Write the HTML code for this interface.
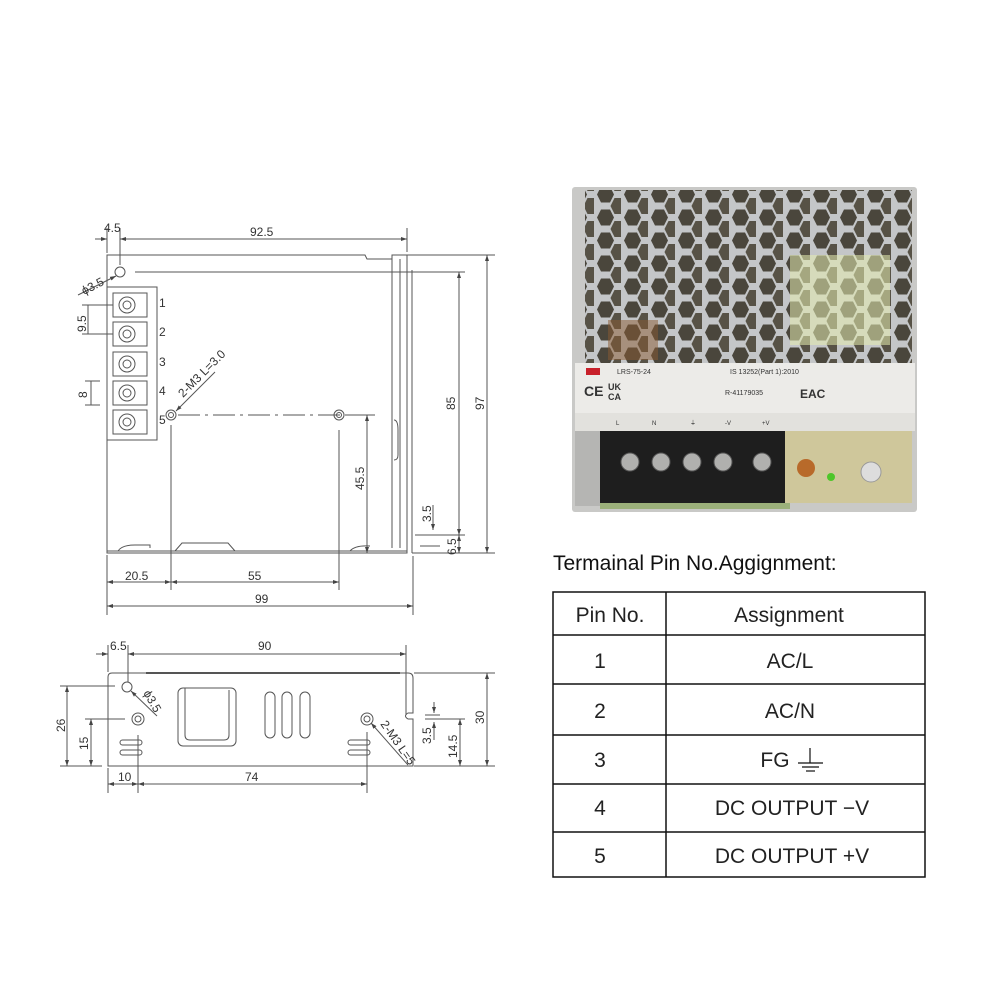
<!DOCTYPE html>
<html><head><meta charset="utf-8"><style>
html,body{margin:0;padding:0;background:#fff;}
svg{display:block;}
text{font-family:"Liberation Sans",sans-serif;}
</style></head><body>
<svg width="1000" height="1000" viewBox="0 0 1000 1000" xmlns="http://www.w3.org/2000/svg">
<defs>
<pattern id="hex" width="27" height="23" patternUnits="userSpaceOnUse">
<rect width="27" height="23" fill="#c4c6c8"/>
<polygon points="7,2 16,2 20,10 16,18 7,18 3,10" fill="#4a463c" transform="translate(0,0.5)"/>
<polygon points="7,2 16,2 20,10 16,18 7,18 3,10" fill="#575246" transform="translate(13.5,12)"/>
<polygon points="7,2 16,2 20,10 16,18 7,18 3,10" fill="#575246" transform="translate(13.5,-11)"/>
</pattern>
<marker id="a" markerWidth="6" markerHeight="6" refX="6" refY="3" orient="auto-start-reverse"><path d="M0,1 L6,3 L0,5z" fill="#444"/></marker>
</defs>

<!-- TOP DRAWING -->
<g stroke="#555" stroke-width="1" fill="none">
<path d="M107,255 H365 L367,259 H392 V255 H407 V553 H107 Z"/>
<path d="M392,259 V548 M400,259 V548 M412,270 V553"/>
<path d="M394,420 Q398,420 398,430 V455 Q398,460 394,460"/>
<circle cx="120" cy="272" r="5"/>
<rect x="107" y="287" width="50" height="153"/>
<g>
<rect x="113" y="293" width="34" height="24"/><circle cx="127" cy="305" r="8"/><circle cx="127" cy="305" r="4"/>
<rect x="113" y="322" width="34" height="24"/><circle cx="127" cy="334" r="8"/><circle cx="127" cy="334" r="4"/>
<rect x="113" y="352" width="34" height="24"/><circle cx="127" cy="364" r="8"/><circle cx="127" cy="364" r="4"/>
<rect x="113" y="381" width="34" height="24"/><circle cx="127" cy="393" r="8"/><circle cx="127" cy="393" r="4"/>
<rect x="113" y="410" width="34" height="24"/><circle cx="127" cy="422" r="8"/><circle cx="127" cy="422" r="4"/>
</g>
<circle cx="171" cy="415" r="5"/><circle cx="171" cy="415" r="2.5"/>
<circle cx="339" cy="415" r="5"/><circle cx="339" cy="415" r="2.5"/>
<path d="M178,415 H372" stroke-dasharray="22,5,3,5"/>
<path d="M118,551 Q122,545 135,545 H150 V548 M175,551 L182,543 H228 L235,551 M350,551 Q355,545 370,546"/>
<line x1="107" y1="551" x2="407" y2="551"/>
<line x1="107" y1="228" x2="107" y2="253"/><line x1="120" y1="228" x2="120" y2="265"/><line x1="407" y1="228" x2="407" y2="252"/>
<line x1="95" y1="239" x2="107" y2="239" marker-end="url(#a)"/><line x1="120" y1="239" x2="407" y2="239" marker-start="url(#a)" marker-end="url(#a)"/>
<line x1="135" y1="272" x2="465" y2="272"/><line x1="407" y1="255" x2="495" y2="255"/><line x1="412" y1="553" x2="495" y2="553"/>
<line x1="459" y1="272" x2="459" y2="535" marker-start="url(#a)" marker-end="url(#a)"/>
<line x1="487" y1="255" x2="487" y2="553" marker-start="url(#a)" marker-end="url(#a)"/>
<line x1="345" y1="415" x2="375" y2="415"/>
<line x1="367" y1="415" x2="367" y2="553" marker-start="url(#a)" marker-end="url(#a)"/>
<line x1="415" y1="535" x2="465" y2="535"/><line x1="420" y1="546" x2="440" y2="546"/>
<line x1="433" y1="505" x2="433" y2="530" marker-end="url(#a)"/>
<line x1="459" y1="535" x2="459" y2="553" marker-start="url(#a)" marker-end="url(#a)"/>
<line x1="107" y1="555" x2="107" y2="615"/><line x1="171" y1="425" x2="171" y2="590"/><line x1="339" y1="430" x2="339" y2="590"/><line x1="413" y1="556" x2="413" y2="615"/>
<line x1="107" y1="582" x2="171" y2="582" marker-start="url(#a)" marker-end="url(#a)"/>
<line x1="171" y1="582" x2="339" y2="582" marker-start="url(#a)" marker-end="url(#a)"/>
<line x1="107" y1="606" x2="413" y2="606" marker-start="url(#a)" marker-end="url(#a)"/>
<line x1="82" y1="305" x2="113" y2="305"/><line x1="82" y1="334" x2="113" y2="334"/>
<line x1="88" y1="305" x2="88" y2="334"/>
<line x1="85" y1="381" x2="100" y2="381"/><line x1="85" y1="405" x2="100" y2="405"/><line x1="91" y1="381" x2="91" y2="405"/>
<line x1="78" y1="295" x2="116" y2="276" marker-end="url(#a)"/>
<line x1="176" y1="411" x2="215" y2="372" marker-start="url(#a)"/>
</g>
<g fill="#333" font-size="12">
<text x="104" y="232">4.5</text><text x="250" y="236">92.5</text>
<text x="159" y="307">1</text><text x="159" y="336">2</text><text x="159" y="366">3</text><text x="159" y="395">4</text><text x="159" y="424">5</text>
<text x="125" y="580">20.5</text><text x="248" y="580">55</text><text x="255" y="603">99</text>
<text transform="translate(455,410) rotate(-90)">85</text>
<text transform="translate(484,410) rotate(-90)">97</text>
<text transform="translate(364,490) rotate(-90)">45.5</text>
<text transform="translate(431,522) rotate(-90)">3.5</text>
<text transform="translate(456,555) rotate(-90)">6.5</text>
<text transform="translate(86,332) rotate(-90)">9.5</text>
<text transform="translate(87,398) rotate(-90)">8</text>
<text transform="translate(84,295) rotate(-27)">ϕ3.5</text>
<text transform="translate(183,398) rotate(-45)">2-M3 L=3.0</text>
</g>

<!-- BOTTOM DRAWING -->
<g stroke="#555" stroke-width="1" fill="none">
<path d="M112,673 H408 Q413,673 413,678 V713 H408 Q403,716 408,719 H413 V766 H108 V677 Q108,673 112,673 Z"/>
<line x1="146" y1="673" x2="400" y2="673" stroke-width="2"/>
<circle cx="127" cy="687" r="5"/><circle cx="138" cy="719" r="6"/><circle cx="138" cy="719" r="3"/>
<circle cx="367" cy="719" r="6"/><circle cx="367" cy="719" r="3"/>
<rect x="178" y="688" width="58" height="58" rx="5"/><path d="M185,688 V735 Q185,740 190,740 H224 Q229,740 229,735 V690"/>
<rect x="265" y="692" width="10" height="46" rx="5"/><rect x="282" y="692" width="10" height="46" rx="5"/><rect x="300" y="692" width="10" height="46" rx="5"/>
<rect x="120" y="740" width="22" height="5" rx="2.5"/><rect x="120" y="750" width="22" height="5" rx="2.5"/>
<rect x="348" y="740" width="22" height="5" rx="2.5"/><rect x="348" y="750" width="22" height="5" rx="2.5"/>
<line x1="108" y1="645" x2="108" y2="672"/><line x1="128" y1="645" x2="128" y2="682"/><line x1="406" y1="645" x2="406" y2="715"/>
<line x1="128" y1="654" x2="406" y2="654" marker-start="url(#a)" marker-end="url(#a)"/>
<line x1="96" y1="654" x2="108" y2="654" marker-end="url(#a)"/>
<line x1="414" y1="673" x2="495" y2="673"/><line x1="414" y1="766" x2="495" y2="766"/>
<line x1="487" y1="673" x2="487" y2="766" marker-start="url(#a)" marker-end="url(#a)"/>
<line x1="425" y1="719" x2="465" y2="719"/><line x1="425" y1="715" x2="440" y2="715"/>
<line x1="460" y1="719" x2="460" y2="766" marker-start="url(#a)" marker-end="url(#a)"/>
<line x1="434" y1="702" x2="434" y2="713" marker-end="url(#a)"/><line x1="434" y1="740" x2="434" y2="722" marker-end="url(#a)"/>
<line x1="60" y1="686" x2="115" y2="686"/><line x1="60" y1="766" x2="102" y2="766"/><line x1="85" y1="719" x2="125" y2="719"/>
<line x1="67" y1="686" x2="67" y2="766" marker-start="url(#a)" marker-end="url(#a)"/>
<line x1="91" y1="719" x2="91" y2="766" marker-start="url(#a)" marker-end="url(#a)"/>
<line x1="108" y1="768" x2="108" y2="793"/><line x1="138" y1="735" x2="138" y2="793"/><line x1="367" y1="732" x2="367" y2="793"/>
<line x1="108" y1="784" x2="138" y2="784" marker-start="url(#a)" marker-end="url(#a)"/>
<line x1="138" y1="784" x2="367" y2="784" marker-start="url(#a)" marker-end="url(#a)"/>
<line x1="131" y1="691" x2="157" y2="716" marker-start="url(#a)"/>
<line x1="371" y1="723" x2="408" y2="765" marker-start="url(#a)"/>
</g>
<g fill="#333" font-size="12">
<text x="110" y="650">6.5</text><text x="258" y="650">90</text>
<text x="118" y="781">10</text><text x="245" y="781">74</text>
<text transform="translate(65,732) rotate(-90)">26</text>
<text transform="translate(88,750) rotate(-90)">15</text>
<text transform="translate(484,724) rotate(-90)">30</text>
<text transform="translate(457,758) rotate(-90)">14.5</text>
<text transform="translate(431,744) rotate(-90)">3.5</text>
<text transform="translate(143,693) rotate(60)">ϕ3.5</text>
<text transform="translate(380,724) rotate(55)">2-M3 L=5</text>
</g>

<!-- PHOTO -->
<g>
<rect x="572" y="187" width="345" height="325" rx="3" fill="#c9c9c7"/>
<rect x="585" y="190" width="327" height="178" fill="url(#hex)"/>
<rect x="790" y="255" width="100" height="90" fill="#e6ecb0" opacity="0.55"/>
<rect x="608" y="320" width="50" height="40" fill="#8a5a32" opacity="0.5"/>
<rect x="575" y="363" width="340" height="50" fill="#ecebe8"/>
<rect x="586" y="368" width="14" height="7" fill="#c8202a"/>
<g font-size="7" fill="#333">
<text x="617" y="374">LRS-75-24</text>
<text x="584" y="396" font-size="14" font-weight="bold">CE</text>
<text x="608" y="390" font-size="9" font-weight="bold">UK</text><text x="608" y="400" font-size="9" font-weight="bold">CA</text>
<text x="730" y="374">IS 13252(Part 1):2010</text>
<text x="725" y="395">R-41179035</text>
<text x="800" y="398" font-size="12" font-weight="bold">EAC</text>
</g>
<rect x="575" y="413" width="340" height="18" fill="#e2e1dd"/>
<g font-size="6" fill="#333"><text x="616" y="425">L</text><text x="652" y="425">N</text><text x="690" y="425">⏚</text><text x="725" y="425">-V</text><text x="762" y="425">+V</text></g>
<rect x="600" y="431" width="190" height="74" fill="#1e1e1e"/>
<rect x="785" y="431" width="127" height="72" fill="#cfc79b"/>
<rect x="575" y="431" width="25" height="75" fill="#b5b5b3"/>
<g fill="#b0b0ae" stroke="#555" stroke-width="1">
<circle cx="630" cy="462" r="9"/><circle cx="661" cy="462" r="9"/><circle cx="692" cy="462" r="9"/><circle cx="723" cy="462" r="9"/><circle cx="762" cy="462" r="9"/>
</g>
<circle cx="806" cy="468" r="9" fill="#b86a2a"/>
<circle cx="831" cy="477" r="4" fill="#4ec62a"/>
<circle cx="871" cy="472" r="10" fill="#ddd" stroke="#999"/>
<rect x="600" y="503" width="190" height="6" fill="#9bb07a"/>
</g>

<!-- TABLE -->
<text x="553" y="570" font-size="21" fill="#111">Termainal Pin No.Aggignment:</text>
<g stroke="#111" stroke-width="1.5" fill="none">
<rect x="553" y="592" width="372" height="285"/>
<line x1="666" y1="592" x2="666" y2="877"/>
<line x1="553" y1="635" x2="925" y2="635"/>
<line x1="553" y1="684" x2="925" y2="684"/>
<line x1="553" y1="735" x2="925" y2="735"/>
<line x1="553" y1="784" x2="925" y2="784"/>
<line x1="553" y1="832" x2="925" y2="832"/>
</g>
<g font-size="21" fill="#222" text-anchor="middle">
<text x="610" y="622">Pin No.</text><text x="789" y="622">Assignment</text>
<text x="600" y="668">1</text><text x="790" y="668">AC/L</text>
<text x="600" y="718">2</text><text x="790" y="718">AC/N</text>
<text x="600" y="767">3</text><text x="775" y="767">FG</text>
<text x="600" y="815">4</text><text x="792" y="815">DC OUTPUT −V</text>
<text x="600" y="863">5</text><text x="792" y="863">DC OUTPUT +V</text>
</g>
<g stroke="#111" stroke-width="1.2">
<line x1="810" y1="748" x2="810" y2="763"/><line x1="798" y1="763" x2="823" y2="763"/><line x1="802" y1="767" x2="819" y2="767"/><line x1="806" y1="771" x2="815" y2="771"/>
</g>
</svg>
</body></html>
